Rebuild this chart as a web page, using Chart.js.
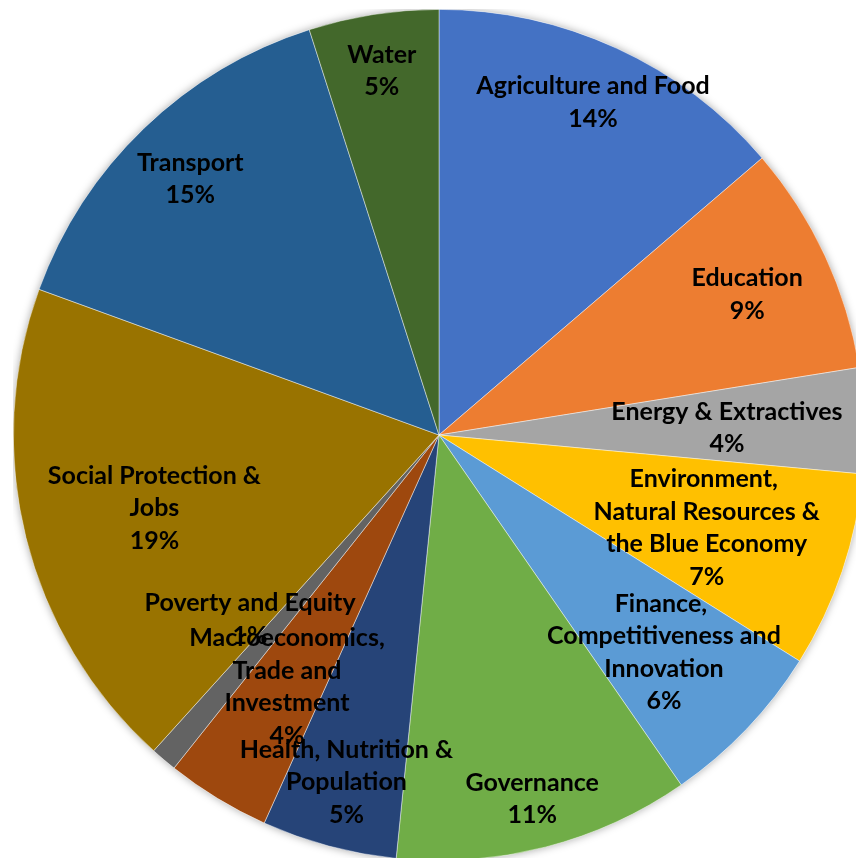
<!DOCTYPE html>
<html>
<head>
<meta charset="utf-8">
<script src="https://cdn.jsdelivr.net/npm/chart.js@4.4.1/dist/chart.umd.min.js"></script>
<style>
  html, body { margin: 0; padding: 0; background: #ffffff; overflow: hidden; width: 856px; height: 858px; }
  #wrap { position: absolute; left: 13px; top: 9px; width: 852px; height: 852px; }
</style>
</head>
<body>
<div id="wrap"><canvas id="c"></canvas></div>
<script>
// ---- data ----
const categories = [
  ["Agriculture and Food"],
  ["Education"],
  ["Energy & Extractives"],
  ["Environment, ", "Natural Resources &", "the Blue Economy"],
  ["Finance, ", "Competitiveness and", "Innovation"],
  ["Governance"],
  ["Health, Nutrition &", "Population"],
  ["Macroeconomics,", "Trade and", "Investment"],
  ["Poverty and Equity"],
  ["Social Protection &", "Jobs"],
  ["Transport"],
  ["Water"]
];
const shares = [13.72, 8.74, 4.0, 7.45, 6.45, 11.24, 5.13, 3.96, 1.0, 18.86, 14.51, 4.93];
const sliceColors = ["#4472C4", "#ED7D31", "#A5A5A5", "#FFC000", "#5B9BD5", "#70AD47",
                     "#264478", "#9E480E", "#636363", "#997300", "#255E91", "#43682B"];

// label placement (fraction of radius, angular shift in degrees)
const labelRadius = [0.866, 0.798, 0.677, 0.664, 0.731, 0.877, 0.839, 0.686, 0.616, 0.689, 0.843, 0.872];
const labelShift  = [0, 0, 0, 0, 0, 0, 0, 0, 5.8, 0, 0, 0];

const shadowPlugin = {
  id: 'pieShadow',
  beforeDatasetsDraw(chart) {
    const arc = chart.getDatasetMeta(0).data[0];
    if (!arc) return;
    const ctx = chart.ctx;
    ctx.save();
    ctx.shadowColor = 'rgba(0,0,0,0.35)';
    ctx.shadowBlur = 9;
    ctx.fillStyle = '#ffffff';
    ctx.beginPath();
    ctx.arc(arc.x, arc.y, arc.outerRadius, 0, Math.PI * 2);
    ctx.fill();
    ctx.restore();
  }
};

const labelPlugin = {
  id: 'sliceLabels',
  afterDatasetsDraw(chart) {
    const ctx = chart.ctx;
    const meta = chart.getDatasetMeta(0);
    const data = chart.data.datasets[0].data;
    const total = data.reduce((a, b) => a + b, 0);
    const lineH = 32.5;
    const baseOffset = 2.5;
    ctx.save();
    ctx.font = 'bold 25px Lato, "Liberation Sans", sans-serif';
    ctx.fillStyle = '#000000';
    ctx.textAlign = 'center';
    ctx.textBaseline = 'middle';
    meta.data.forEach((arc, i) => {
      const mid = (arc.startAngle + arc.endAngle) / 2 + labelShift[i] * Math.PI / 180;
      const r = arc.outerRadius * labelRadius[i];
      const cx = arc.x + Math.cos(mid) * r;
      const cy = arc.y + Math.sin(mid) * r + baseOffset;
      const lines = chart.data.labels[i].concat([Math.round(data[i] / total * 100) + '%']);
      const top = cy - (lines.length - 1) * lineH / 2;
      lines.forEach((t, k) => ctx.fillText(t, cx, top + k * lineH));
    });
    ctx.restore();
  }
};

new Chart(document.getElementById('c'), {
  type: 'pie',
  data: {
    labels: categories,
    datasets: [{
      data: shares,
      backgroundColor: sliceColors,
      borderColor: 'rgba(255,255,255,0.55)',
      borderWidth: 0.8
    }]
  },
  options: {
    responsive: true,
    maintainAspectRatio: false,
    animation: false,
    layout: { padding: 0 },
    plugins: {
      legend: { display: false },
      tooltip: { enabled: false }
    }
  },
  plugins: [shadowPlugin, labelPlugin]
});
</script>
</body>
</html>
